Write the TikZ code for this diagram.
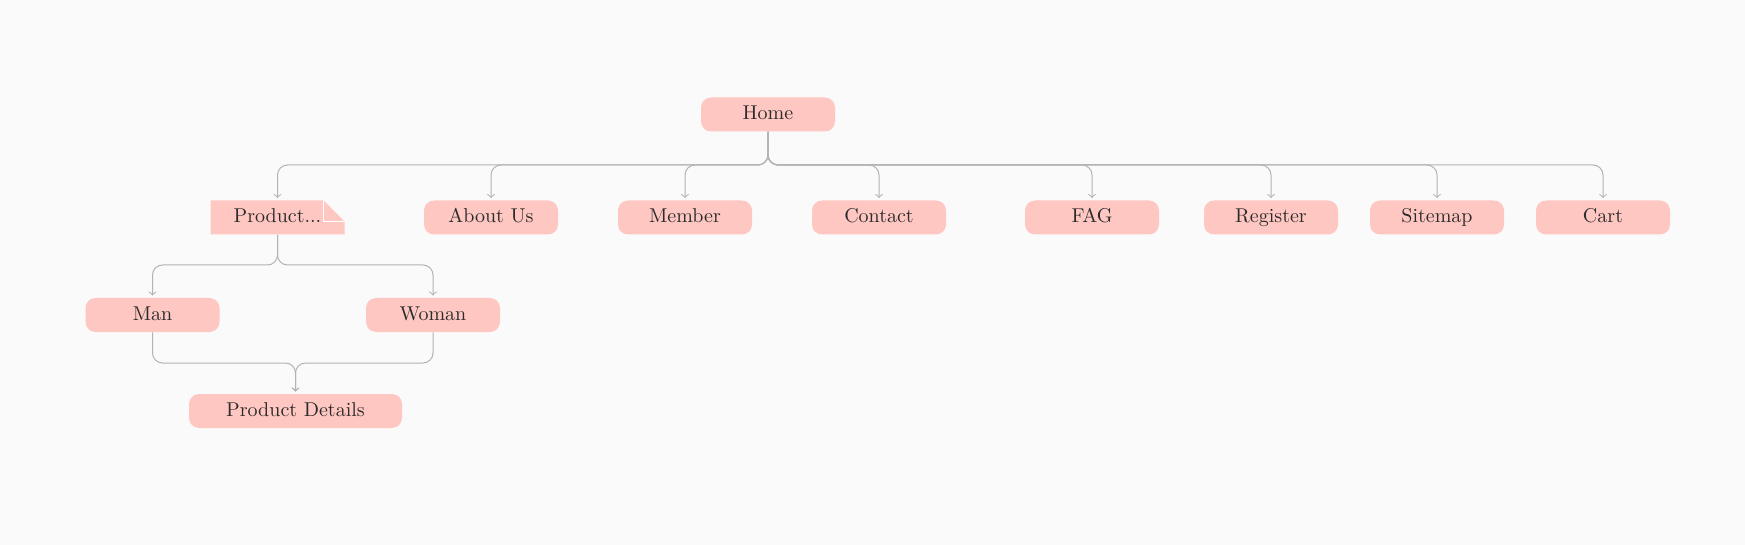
\documentclass[tikz,border=0pt]{standalone}
\usepackage{xcolor}
\usetikzlibrary{shapes,arrows}

\definecolor{pagebg}{HTML}{FAFAFA}
\definecolor{boxpink}{HTML}{FFC7C2}
\definecolor{linegray}{HTML}{B3B3B3}
\definecolor{inkcol}{HTML}{2B2B2B}

\tikzset{
  pagebox/.style={rectangle, rounded corners=5pt, fill=boxpink, text=inkcol,
    minimum width=67pt, minimum height=17pt, inner sep=0pt, text height=1.6ex, text depth=0.4ex},
  notebox/.style={rectangle, text=inkcol, minimum width=67pt, minimum height=17pt, inner sep=0pt,
    text height=1.6ex, text depth=0.4ex,
    path picture={
      \fill[boxpink] (path picture bounding box.south west) -- (path picture bounding box.north west)
        -- ([xshift=-10.5pt]path picture bounding box.north east)
        -- ([yshift=-10.5pt]path picture bounding box.north east)
        -- (path picture bounding box.south east) -- cycle;
      \draw[white, line width=0.6pt] ([xshift=-10.5pt]path picture bounding box.north east)
        |- ([yshift=-10.5pt]path picture bounding box.north east);
    }},
  conn/.style={draw=linegray, line width=0.5pt, rounded corners=5pt, ->, >=to, shorten >=1pt}
}

\begin{document}
\begin{tikzpicture}[x=0.5pt, y=-0.5pt]
  \fill[pagebg] (0,0) rectangle (1745,545);
  \useasboundingbox (0,0) rectangle (1745,545);

  % top level
  \node[pagebox] (home) at (768,114.5) {Home};
  \node[notebox] (product) at (277.5,217.5) {Product...};
  \foreach \x/\nm/\txt in {491/about/About Us, 685/member/Member, 879/contact/Contact, 1092/faq/FAG, 1271/register/Register, 1437/sitemap/Sitemap, 1603/cart/Cart}{
    \node[pagebox] (\nm) at (\x,217.5) {\txt}; }

  % product pages
  \node[pagebox] (man) at (152.5,315) {Man};
  \node[pagebox] (woman) at (433,315) {Woman};
  \node[pagebox, minimum width=106.5pt] (details) at (295.5,411) {Product Details};

  \coordinate (bus1) at (768,165);
  \coordinate (bus2) at (277,265);
  \coordinate (bus3) at (295,363);

  \foreach \nm in {product,about,member,contact,faq,register,sitemap,cart}%
  {%
    \draw[conn] (home.south) -- (home.south |- bus1) -| (\nm.north);%
  }
  \foreach \nm in {man,woman}
  {
    \draw[conn] (product.south) -- (product.south |- bus2) -| (\nm.north);
    \draw[conn] (\nm.south) -- (\nm.south |- bus3) -| (details.north);
  }
\end{tikzpicture}
\end{document}
